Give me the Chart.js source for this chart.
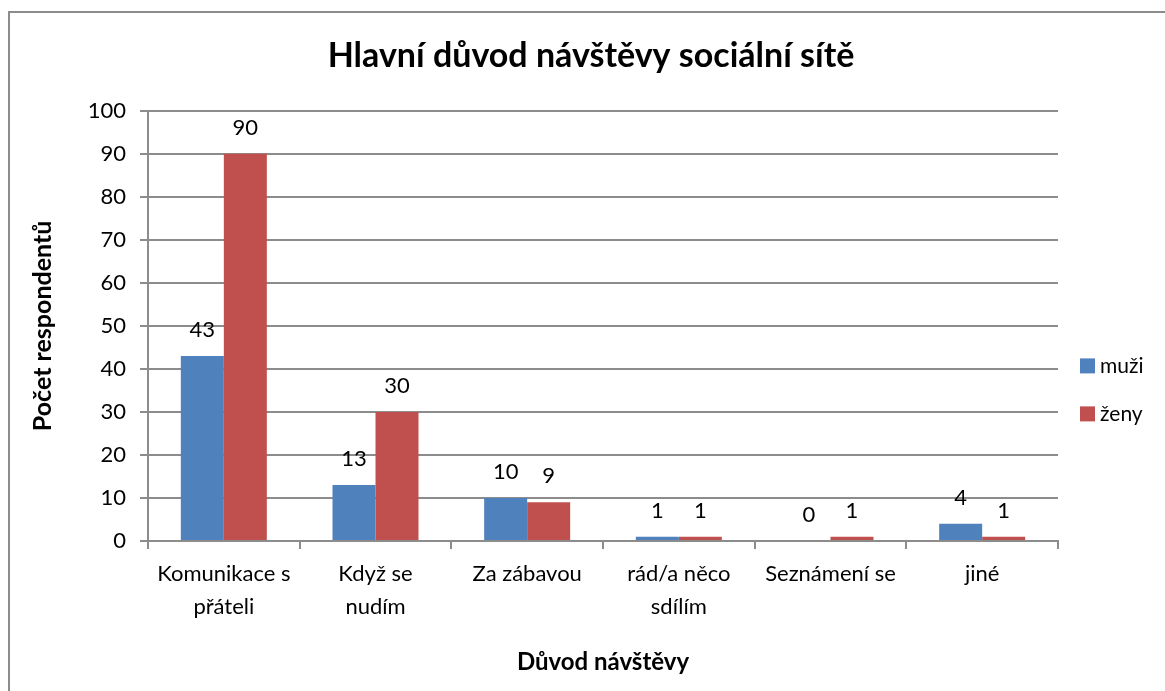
<!DOCTYPE html>
<html>
<head>
<meta charset="utf-8">
<script src="https://cdn.jsdelivr.net/npm/chart.js@4"></script>
<style>
  body { margin: 0; background: #fff; }
  #wrap { width: 1165px; height: 691px; }
</style>
</head>
<body>
<div id="wrap"><canvas id="chart" width="1165" height="691"></canvas></div>
<script>
/* ====== data ====== */
const categories = [['Komunikace s', 'přáteli'], ['Když se', 'nudím'], 'Za zábavou', ['rád/a něco', 'sdílím'], 'Seznámení se', 'jiné'];
const muzi = [43, 13, 10, 1, 0, 4];
const zeny = [90, 30, 9, 1, 1, 1];
const seriesNames = ['muži', 'ženy'];
const seriesColors = ['#4f81bd', '#c0504d'];

const FONT = 'Lato, "Open Sans", sans-serif';
const gridColor = '#8c8c8c';

// outer frame like the Excel chart area
const framePlugin = {
  id: 'frame',
  beforeDraw(chart) {
    const c = chart.ctx;
    c.save();
    c.strokeStyle = '#8c8c8c';
    c.lineWidth = 2;
    c.strokeRect(9, 12, chart.width + 50, chart.height + 50);
    c.restore();
  }
};

// value labels above bars
const valueLabels = {
  id: 'valueLabels',
  afterDatasetsDraw(chart) {
    const c = chart.ctx;
    c.save();
    c.font = '22px ' + FONT;
    c.fillStyle = '#000';
    c.textAlign = 'center';
    c.textBaseline = 'middle';
    chart.data.datasets.forEach((ds, i) => {
      chart.getDatasetMeta(i).data.forEach((bar, j) => {
        c.fillText(String(ds.data[j]), bar.x, bar.y - 26);
      });
    });
    c.restore();
  }
};

// legend on the right side
const sideLegend = {
  id: 'sideLegend',
  afterDraw(chart) {
    const c = chart.ctx;
    const area = chart.chartArea;
    const x = area.right + 22;
    const midY = (area.top + area.bottom) / 2 + 64;
    c.save();
    c.font = '21px ' + FONT;
    c.textBaseline = 'middle';
    c.textAlign = 'left';
    chart.data.datasets.forEach((ds, i) => {
      const y = midY - 24 + i * 48;
      c.fillStyle = ds.backgroundColor;
      c.fillRect(x, y - 7.5, 15, 15);
      c.fillStyle = '#000';
      c.fillText(ds.label, x + 20, y);
    });
    c.restore();
  }
};

new Chart(document.getElementById('chart'), {
  type: 'bar',
  data: {
    labels: categories,
    datasets: [
      { label: seriesNames[0], data: muzi, backgroundColor: seriesColors[0] },
      { label: seriesNames[1], data: zeny, backgroundColor: seriesColors[1] }
    ]
  },
  options: {
    responsive: false,
    animation: false,
    devicePixelRatio: 1,
    categoryPercentage: 0.567,
    barPercentage: 1.0,
    layout: { padding: { left: 17, right: 0, top: 0, bottom: 0 } },
    plugins: {
      legend: { display: false },
      tooltip: { enabled: false },
      title: {
        display: true,
        text: 'Hlavní důvod návštěvy sociální sítě',
        color: '#000',
        font: { family: FONT, size: 34, weight: 'bold' },
        padding: { top: 36, bottom: 34 }
      }
    },
    scales: {
      x: {
        afterFit(scale) { scale.height = 150; },
        grid: { offset: true, drawOnChartArea: false, drawTicks: true, tickLength: 8, color: gridColor, lineWidth: 2 },
        border: { color: gridColor, width: 2 },
        ticks: { color: '#000', font: { family: FONT, size: 22, lineHeight: 1.5 }, padding: 8, maxRotation: 0, autoSkip: false },
        title: {
          display: true,
          text: 'Důvod návštěvy',
          color: '#000',
          font: { family: FONT, size: 24, weight: 'bold' },
          padding: { top: 0, bottom: 14 }
        }
      },
      y: {
        min: 0,
        max: 100,
        afterFit(scale) { scale.width = 131; },
        grid: { color: gridColor, lineWidth: 2, drawTicks: true, tickLength: 8 },
        border: { color: gridColor, width: 2 },
        ticks: { stepSize: 10, color: '#000', font: { family: FONT, size: 22 }, padding: 14 },
        title: {
          display: true,
          text: 'Počet respondentů',
          color: '#000',
          font: { family: FONT, size: 25, weight: 'bold' },
          padding: { top: 11, bottom: 0 }
        }
      },
      // empty axis that only reserves room for the legend
      legendSpace: {
        position: 'right',
        afterFit(scale) { scale.width = 107; },
        grid: { display: false },
        border: { display: false },
        ticks: { display: false }
      }
    }
  },
  plugins: [framePlugin, valueLabels, sideLegend]
});
</script>
</body>
</html>
